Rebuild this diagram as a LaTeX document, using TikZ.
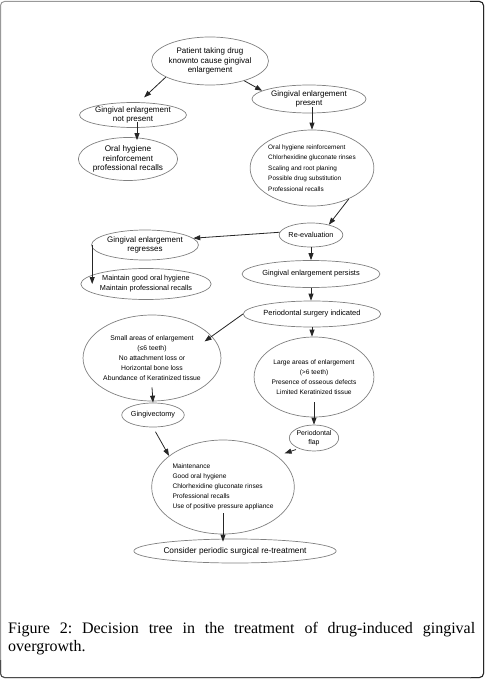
\documentclass[tikz,border=0pt]{standalone}
\usepackage{fontspec}
\setmainfont{Liberation Serif}
\newfontfamily\dsans{Liberation Sans}
\usetikzlibrary{shapes.geometric,arrows.meta}
\newcommand{\fsz}[2]{\dsans\fontsize{#1}{#2}\selectfont}
\frenchspacing
\begin{document}
\begin{tikzpicture}[x=1pt,y=-1pt,
  box/.style={ellipse,draw=black!50,line width=0.7pt,inner sep=0pt,align=center},
  arr/.style={draw=black!85,line width=0.8pt,-{Triangle[length=7pt,width=5pt]}}]
\useasboundingbox (0,0) rectangle (485,679);
% frame
\draw[black!40,line width=1pt,rounded corners=4pt] (0.5,1.5) rectangle (483.5,677.5);
\draw[black!85,line width=1pt,rounded corners=4pt] (470,1.5) -- (483.5,1.5) -- (483.5,677.5) -- (470,677.5);
\draw[black!70,line width=1pt,rounded corners=4pt] (471,677.5) -- (0.5,677.5) -- (0.5,660);

% nodes
\node[box,minimum width=108pt,minimum height=48pt,font={\fsz{8}{9.5}}] (top) at (210,61)
  {Patient taking drug\\knownto cause gingival\\enlargement};
\node[box,minimum width=97pt,minimum height=25pt,font={\fsz{8}{9.5}}] (nopres) at (133,115)
  {Gingival enlargement\\not present};
\node[box,minimum width=92pt,minimum height=43pt,font={\fsz{8.2}{9.5}}] (oralh) at (128,159)
  {Oral hygiene\\reinforcement\\professional recalls};
\node[box,minimum width=114pt,minimum height=28pt,font={\fsz{8}{9.5}}] (pres) at (309,99)
  {Gingival enlargement\\present};
\node[box,minimum width=106pt,minimum height=76pt,font={\fsz{6.4}{10.5}},align=left] (big) at (312,168)
  {Oral hygiene reinforcement\\Chlorhexidine gluconate rinses\\Scaling and root planing\\Possible drug substitution\\Professional recalls};
\node[box,minimum width=54pt,minimum height=24pt,font={\fsz{7.3}{10}}] (reeval) at (311,235)
  {Re-evaluation};
\node[box,minimum width=106pt,minimum height=30pt,font={\fsz{8}{9.5}}] (regress) at (145,245)
  {Gingival enlargement\\regresses};
\node[box,minimum width=110pt,minimum height=31pt,font={\fsz{7.3}{10}}] (maintain) at (146,284)
  {Maintain good oral hygiene\\Maintain professional recalls};
\node[box,minimum width=104pt,minimum height=27pt,font={\fsz{7.4}{10}}] (persist) at (311,274)
  {Gingival enlargement persists};
\node[box,minimum width=104pt,minimum height=26pt,font={\fsz{7.5}{10}}] (surg) at (312,314)
  {Periodontal surgery indicated};
\node[box,minimum width=116pt,minimum height=86pt,font={\fsz{6.8}{10.2}}] (small) at (152,358)
  {Small areas of enlargement\\(≤6 teeth)\\No attachment loss or\\Horizontal bone loss\\Abundance of Keratinized tissue};
\node[box,minimum width=94pt,minimum height=80pt,font={\fsz{6.6}{10}}] (large) at (314,377)
  {Large areas of enlargement\\(>6 teeth)\\Presence of osseous defects\\Limited Keratinized tissue};
\node[box,minimum width=50pt,minimum height=24pt,font={\fsz{7.3}{10}}] (ging) at (153,415)
  {Gingivectomy};
\node[box,minimum width=48pt,minimum height=26pt,font={\fsz{6.9}{9.5}}] (flap) at (314,438)
  {Periodontal\\flap};
\node[box,minimum width=126pt,minimum height=94pt,font={\fsz{6.6}{10}},align=left] (maint) at (223,487)
  {Maintenance\\Good oral hygiene\\Chlorhexidine gluconate rinses\\Professional recalls\\Use of positive pressure appliance};
\node[box,minimum width=156pt,minimum height=24pt,font={\fsz{8.3}{10}}] (consider) at (235,551)
  {Consider periodic surgical re-treatment};

% caption
\node[anchor=base west,inner sep=0pt,text width=467pt,align=justify,
  font={\fontsize{16}{18}\selectfont}] (cap) at (8,633)
  {Figure 2: Decision tree in the treatment of drug-induced gingival\linebreak overgrowth.};

% connectors
\draw[arr,shorten >=7pt] (top.200) -- ([xshift=6pt]nopres.north);
\draw[arr,shorten >=-3pt] ([xshift=4pt,yshift=6pt]nopres.south) -- ([xshift=9pt]oralh.north);
\draw[arr] (top.330) -- (pres.170);
\draw[arr] ([xshift=3pt,yshift=6pt]pres.south) -- (big.north);
\draw[arr] (big.-40) -- (reeval.30);
\draw[arr] (reeval.175) -- (regress.8);
\draw[arr] ([xshift=1pt]regress.west) -- ([xshift=1pt]regress.west |- maintain.center);
\draw[arr] (reeval.south) -- (persist.north);
\draw[arr] (persist.south) -- (persist.south |- surg.north);
\draw[arr,shorten >=-9pt] (surg.west) -- (small.20);
\draw[arr] (surg.south) -- (surg.south |- large.north);
\draw[arr] ([yshift=15pt]large.south) -- (flap.north);
\draw[arr] ([yshift=14pt]small.south) -- (ging.north);
\draw[arr,shorten <=5pt] (ging.south) -- (maint.150);
\draw[arr,shorten <=3pt,shorten >=8pt] (flap.215) -- (maint.30);
\draw[arr,shorten >=-3pt] ([yshift=21pt]maint.south) -- (maint.south |- consider.north);
\end{tikzpicture}
\end{document}
